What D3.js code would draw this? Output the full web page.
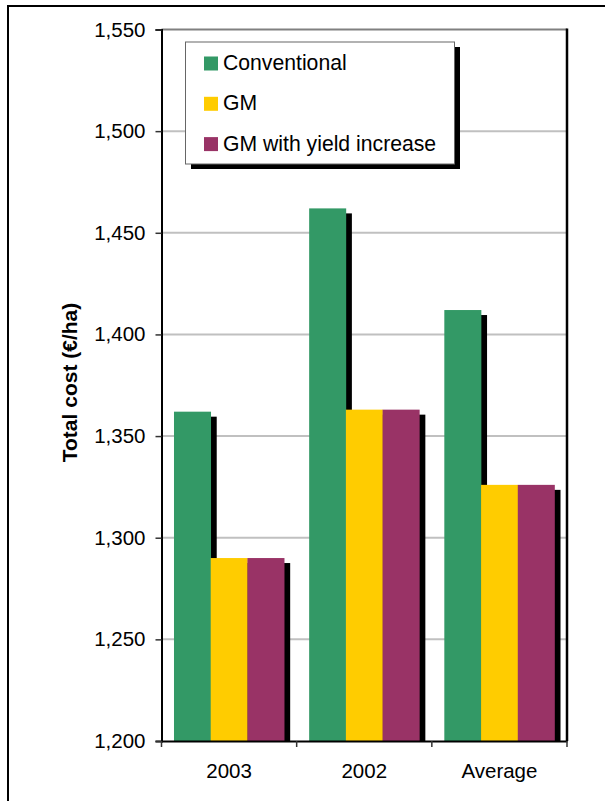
<!DOCTYPE html>
<html><head><meta charset="utf-8">
<script src="https://cdn.jsdelivr.net/npm/d3@7"></script>
<style>body{margin:0;background:#fff}svg{display:block;font-family:"Liberation Sans",Arial,sans-serif}</style>
</head><body><svg id="c" width="605" height="801"></svg>
<script>
const categories = ["2003", "2002", "Average"];
const series = ["Conventional", "GM", "GM with yield increase"];
const colors = ["#339966", "#FFCC00", "#993366"];
const conventional = [1362, 1462, 1412];
const gm = [1290, 1363, 1326];
const gmYield = [1290, 1363, 1326];
const yTicks = [1200, 1250, 1300, 1350, 1400, 1450, 1500, 1550];
const yTitle = "Total cost (€/ha)";

const values = [conventional, gm, gmYield];
const svg = d3.select("#c");
const L = 161.5, R = 567, T = 29.5, B = 741;

// outer frame
svg.append("rect").attr("x", 8).attr("y", 6).attr("width", 700).attr("height", 900)
  .attr("fill", "none").attr("stroke", "#000").attr("stroke-width", 2);

const y = d3.scaleLinear().domain([1200, 1550]).range([B, T]);
const x = d3.scaleBand().domain(categories).range([L, R]).padding(0);
const xs = d3.scaleBand().domain(series).range([0, x.bandwidth()]).paddingInner(0).paddingOuter(0.34);

// gridlines
svg.append("g").selectAll("line").data(yTicks.slice(1, -1)).join("line")
  .attr("x1", L).attr("x2", R).attr("y1", d => y(d)).attr("y2", d => y(d))
  .attr("stroke", "#c0c0c0").attr("stroke-width", 2);
// top border
svg.append("line").attr("x1", L).attr("x2", R).attr("y1", T).attr("y2", T)
  .attr("stroke", "#808080").attr("stroke-width", 2);

svg.append("defs").append("clipPath").attr("id", "clip").append("rect")
  .attr("x", L).attr("y", T).attr("width", R - L).attr("height", B - T);

const data = [];
categories.forEach((c, i) => series.forEach((s, j) => data.push({c, s, j, v: values[j][i]})));

const g = svg.append("g").attr("clip-path", "url(#clip)");
g.selectAll("rect.sh").data(data).join("rect").attr("class", "sh")
  .attr("x", d => x(d.c) + xs(d.s) + 6).attr("y", d => y(d.v) + 5)
  .attr("width", xs.bandwidth()).attr("height", d => B - y(d.v))
  .attr("fill", "#000");
g.selectAll("rect.bar").data(data).join("rect").attr("class", "bar")
  .attr("x", d => x(d.c) + xs(d.s)).attr("y", d => y(d.v))
  .attr("width", xs.bandwidth() + 0.3).attr("height", d => B - y(d.v))
  .attr("fill", d => colors[d.j]);

// right border
svg.append("line").attr("x1", R).attr("x2", R).attr("y1", T - 1).attr("y2", B)
  .attr("stroke", "#000").attr("stroke-width", 2.5);

// y axis
const ya = d3.axisLeft(y).tickValues(yTicks).tickSize(6).tickPadding(10).tickFormat(d3.format(","));
const yg = svg.append("g").attr("transform", `translate(${L},0)`).call(ya);
yg.select(".domain").attr("stroke", "#000").attr("stroke-width", 2);
yg.selectAll(".tick line").attr("stroke", "#333").attr("stroke-width", 1.5);
yg.selectAll("text").attr("font-size", 20.5).attr("fill", "#000").attr("font-family", "Liberation Sans, Arial, sans-serif");

// x axis
const xa = d3.axisBottom(x).tickSize(0).tickPadding(0);
const xg = svg.append("g").attr("transform", `translate(0,${B})`).call(xa);
xg.select(".domain").attr("stroke", "#000").attr("stroke-width", 2);
xg.selectAll(".tick text").attr("font-size", 20.5).attr("fill", "#000").attr("y", 37).attr("dy", 0)
  .attr("font-family", "Liberation Sans, Arial, sans-serif");
const bounds = [L, ...categories.map(c => x(c) + x.bandwidth())];
xg.append("g").selectAll("line").data(bounds).join("line")
  .attr("x1", d => d).attr("x2", d => d).attr("y1", 0).attr("y2", 6)
  .attr("stroke", "#333").attr("stroke-width", 1.5);

// y title
svg.append("text").attr("transform", "translate(77,382.5) rotate(-90)")
  .attr("text-anchor", "middle").attr("font-weight", "bold").attr("font-size", 21)
  .text(yTitle);

// legend
const lg = svg.append("g");
lg.append("rect").attr("x", 191).attr("y", 47).attr("width", 269).attr("height", 122).attr("fill", "#000");
lg.append("rect").attr("x", 185.5).attr("y", 42).attr("width", 269).attr("height", 122)
  .attr("fill", "#fff").attr("stroke", "#666").attr("stroke-width", 1);
series.forEach((s, j) => {
  const yy = 70 + j * 40.3;
  lg.append("rect").attr("x", 204).attr("y", yy - 13.5).attr("width", 14).attr("height", 14).attr("fill", colors[j]);
  lg.append("text").attr("x", 223).attr("y", yy).attr("font-size", 21.2).attr("fill", "#000").text(s);
});
</script></body></html>
